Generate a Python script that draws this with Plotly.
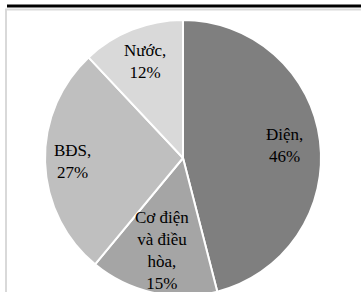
import math
import plotly.graph_objects as go

labels = ["Điện", "Cơ điện và điều hòa", "BĐS", "Nước"]
values = [46, 15, 27, 12]
label_text = ["Điện,", "Cơ điện<br>và điều<br>hòa,", "BĐS,", "Nước,"]
colors = ["#7f7f7f", "#a5a5a5", "#bfbfbf", "#d9d9d9"]
label_radius = [0.74, 0.69, 0.80, 0.75]  # fraction of pie radius for each label
title_text = "Cơ cấu doanh thu theo mảng"

W, H = 361, 300
CX, CY, R = 183, 158, 138
FONT = "Times New Roman, Liberation Serif, serif"

fig = go.Figure(go.Pie(
    labels=labels, values=values, textinfo="none",
    sort=False, direction="clockwise", rotation=0,
    marker=dict(colors=colors, line=dict(color="white", width=2)),
    hoverinfo="skip", showlegend=False,
    domain=dict(x=[(CX - R) / W, (CX + R) / W], y=[1 - (CY + R) / H, 1 - (CY - R) / H]),
))

annotations = []
total = sum(values)
cum = 0
for txt, v, f in zip(label_text, values, label_radius):
    mid = (cum + v / 2) / total * 2 * math.pi
    cum += v
    px = CX + f * R * math.sin(mid)
    py = CY - f * R * math.cos(mid)
    annotations.append(dict(
        text=f"{txt}<br>{v}%", xref="paper", yref="paper", x=px / W, y=1 - py / H,
        xanchor="center", yanchor="middle", showarrow=False, align="center",
        font=dict(family=FONT, size=17, color="black"),
    ))

annotations.append(dict(text=title_text, xref="paper", yref="paper", x=192 / W, y=1 - 2 / H,
                        yanchor="bottom", showarrow=False,
                        font=dict(family=FONT, size=16, color="#595959")))

fig.update_layout(
    width=W, height=H, margin=dict(l=0, r=0, t=0, b=0),
    paper_bgcolor="white", plot_bgcolor="white",
    shapes=[
        dict(type="line", xref="paper", yref="paper", x0=7 / W, x1=1, y0=1 - 6 / H, y1=1 - 6 / H,
             line=dict(color="black", width=3)),
        dict(type="rect", xref="paper", yref="paper", x0=6 / W, x1=1.05, y0=-0.05, y1=1 - 9.5 / H,
             line=dict(color="#d9d9d9", width=2)),
    ],
    annotations=annotations,
)

fig.write_html("out.html", config={"displayModeBar": False},
               post_script="document.body.style.margin='0';document.body.style.overflow='hidden';")
